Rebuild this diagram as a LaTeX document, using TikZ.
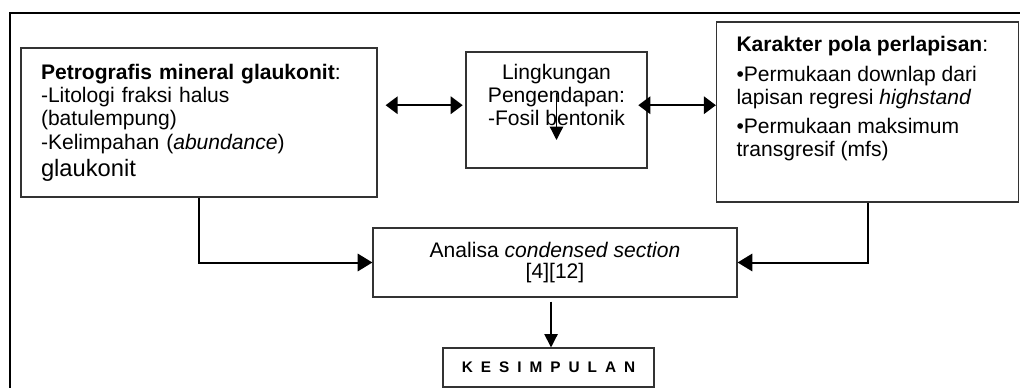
\documentclass[tikz,border=0pt]{standalone}
\usepackage{fontspec}
\setmainfont{Liberation Sans}
\usetikzlibrary{arrows.meta}

\begin{document}
\begin{tikzpicture}
[x=0.75pt,y=-0.75pt,
every node/.style={shape=rectangle,draw=black!80,line width=0.9pt,inner sep=0pt,
  font=\fontsize{15.8}{17.5}\selectfont},
arrow/.style={line width=1.5pt,-{Triangle[length=11pt,width=13pt]}},
thin arrow/.style={line width=1pt,-{Triangle[length=10pt,width=10pt]}},
both arrow/.style={line width=1.5pt,{Triangle[length=9pt,width=13pt]}-{Triangle[length=9pt,width=13pt]}}]

\useasboundingbox (0,0) rectangle (1020,388);
\draw[line width=1.5pt] (10,390) -- (10,13) -- (1022,13);

\node[minimum width=267pt,minimum height=111.75pt,align=left,text width=237pt] (petro) at (199,122.5)
{\textbf{Petrografis mineral glaukonit}:\\
-Litologi fraksi halus\\
(batulempung)\\
-Kelimpahan (\textit{abundance})\\[3pt]
{\fontsize{17.8}{20}\selectfont glaukonit}};

\node[minimum width=135.75pt,minimum height=87pt] (lingk) at (556.5,110)
{\parbox[c][69pt][t]{130pt}{\centering Lingkungan\\ Pengendapan:\\ -Fosil bentonik}};

\node[minimum width=226.5pt,minimum height=135pt] (pola) at (867.5,112)
{\parbox[c][114pt][t]{196.5pt}{\raggedright
\textbf{Karakter pola perlapisan}:\\[5pt]
\textbullet Permukaan downlap dari\\
lapisan regresi \textit{highstand}\\[4pt]
\textbullet Permukaan maksimum\\
transgresif (mfs)}};

\node[minimum width=273pt,minimum height=51.75pt,align=center] (analisa) at (555,262.5)
{Analisa \textit{condensed section}\\[-2pt]{[4][12]}};

\node[minimum width=158.25pt,minimum height=29.25pt,font=\bfseries\fontsize{11.5}{13}\selectfont] (simpul) at (548.5,367.5)
{\spaceskip=6pt K E S I M P U L A N};

% penghubung
\draw[both arrow] ([xshift=6pt]petro.east |- lingk.177) -- ([xshift=-2pt]lingk.177);
\draw[both arrow] ([xshift=-7pt]lingk.3) -- (pola.west |- lingk.3);
\draw[thin arrow] ([yshift=12.75pt]lingk.center) -- ([yshift=-22.5pt]lingk.center);
\draw[arrow] (petro.south) |- (analisa.west);
\draw[arrow] (pola.south) |- (analisa.east);
\draw[thin arrow,shorten <=3pt] ([xshift=1.9pt]analisa.south -| simpul.north) -- ([xshift=1.9pt]simpul.north);
\end{tikzpicture}
\end{document}
